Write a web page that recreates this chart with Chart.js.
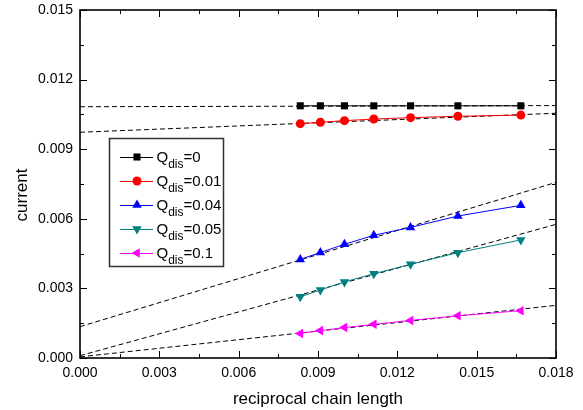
<!DOCTYPE html>
<html>
<head>
<meta charset="utf-8">
<script src="https://cdn.jsdelivr.net/npm/chart.js@4"></script>
<style>
html,body{margin:0;padding:0;background:#fff;}
#wrap{width:583px;height:410px;}
</style>
</head>
<body>
<div id="wrap"><canvas id="c" width="583" height="410"></canvas></div>
<script>
const xVals = [0.00833, 0.00909, 0.01000, 0.01111, 0.01250, 0.01429, 0.01667];
const q0   = [0.01087, 0.01087, 0.01087, 0.01087, 0.01087, 0.01087, 0.01087];
const q001 = [0.01010, 0.01016, 0.01023, 0.01030, 0.01036, 0.01042, 0.01047];
const q004 = [0.00425, 0.00455, 0.00490, 0.00529, 0.00563, 0.00612, 0.00658];
const q005 = [0.00264, 0.00293, 0.00328, 0.00363, 0.00404, 0.00454, 0.00509];
const q01  = [0.00106, 0.00118, 0.00131, 0.00145, 0.00162, 0.00182, 0.00204];
const fitX   = [0, 0.018];
const fit0   = [0.01083, 0.01088];
const fit001 = [0.00973, 0.01055];
const fit004 = [0.00135, 0.00757];
const fit005 = [0.00010, 0.00576];
const fit01  = [0.00005, 0.00227];
const xTicks = [0, 0.003, 0.006, 0.009, 0.012, 0.015, 0.018];
const yTicks = [0, 0.003, 0.006, 0.009, 0.012, 0.015];
const legendLabels = ['0', '0.01', '0.04', '0.05', '0.1'];

const FONT = '"Liberation Sans", Arial, sans-serif';
const pts = ys => ys.map((y, i) => ({x: xVals[i], y}));
const fitPts = ys => ys.map((y, i) => ({x: fitX[i], y}));

const series = [
  {data: q0,   color: '#000000', style: 'rect',     rot: 0,   r: 5},
  {data: q001, color: '#ff0000', style: 'circle',   rot: 0,   r: 4.5},
  {data: q004, color: '#0000ff', style: 'triangle', rot: 0,   r: 5.5},
  {data: q005, color: '#008080', style: 'triangle', rot: 180, r: 5.5},
  {data: q01,  color: '#ff00ff', style: 'triangle', rot: -90, r: 5.5}
];
const fits = [fit0, fit001, fit004, fit005, fit01];

const datasets = [];
series.forEach(s => datasets.push({
  data: pts(s.data), borderColor: s.color, backgroundColor: s.color,
  borderWidth: 1, pointStyle: s.style, rotation: s.rot, pointRadius: s.r,
  pointBorderWidth: 0, pointHoverRadius: s.r, tension: 0
}));
fits.forEach(f => datasets.push({
  data: fitPts(f), borderColor: '#000', borderWidth: 1, borderDash: [5, 3],
  pointRadius: 0, pointHoverRadius: 0, tension: 0
}));

function drawMarker(ctx, style, rot, r, x, y, color) {
  ctx.save();
  ctx.fillStyle = color;
  ctx.translate(x, y);
  ctx.rotate(rot * Math.PI / 180);
  ctx.beginPath();
  if (style === 'rect') {
    const s = Math.SQRT1_2 * r;
    ctx.rect(-s, -s, 2 * s, 2 * s);
  } else if (style === 'circle') {
    ctx.arc(0, 0, r, 0, Math.PI * 2);
  } else {
    ctx.moveTo(0, -r);
    ctx.lineTo(r * Math.sin(Math.PI * 2 / 3), -r * Math.cos(Math.PI * 2 / 3));
    ctx.lineTo(r * Math.sin(Math.PI * 4 / 3), -r * Math.cos(Math.PI * 4 / 3));
    ctx.closePath();
  }
  ctx.fill();
  ctx.restore();
}

const framePlugin = {
  id: 'frame',
  afterDatasetsDraw(chart) {
    const {ctx, chartArea: a, scales: {x, y}} = chart;
    ctx.save();
    ctx.strokeStyle = '#000';
    ctx.lineWidth = 1.6;
    ctx.strokeRect(a.left, a.top, a.right - a.left, a.bottom - a.top);
    ctx.lineWidth = 1;
    ctx.beginPath();
    for (let i = 0; i < xTicks.length * 2 - 1; i++) {
      const v = i * 0.0015;
      const px = Math.round(x.getPixelForValue(v)) + 0.5;
      const L = i % 2 === 0 ? 7 : 4;
      ctx.moveTo(px, a.bottom); ctx.lineTo(px, a.bottom - L);
      ctx.moveTo(px, a.top); ctx.lineTo(px, a.top + L);
    }
    for (let i = 0; i < yTicks.length * 2 - 1; i++) {
      const v = i * 0.0015;
      const py = Math.round(y.getPixelForValue(v)) + 0.5;
      const L = i % 2 === 0 ? 7 : 4;
      ctx.moveTo(a.left, py); ctx.lineTo(a.left + L, py);
      ctx.moveTo(a.right, py); ctx.lineTo(a.right - L, py);
    }
    ctx.stroke();

    // axis titles
    ctx.fillStyle = '#000';
    ctx.font = '17px ' + FONT;
    ctx.textAlign = 'center';
    ctx.textBaseline = 'middle';
    ctx.fillText('reciprocal chain length', (a.left + a.right) / 2, 399);
    ctx.save();
    ctx.translate(22, 195);
    ctx.rotate(-Math.PI / 2);
    ctx.fillText('current', 0, 0);
    ctx.restore();

    // legend
    ctx.fillStyle = '#fff';
    ctx.fillRect(109.5, 138.5, 114, 128);
    ctx.strokeStyle = '#333';
    ctx.lineWidth = 1.5;
    ctx.strokeRect(109.5, 138.5, 114, 128);
    series.forEach((s, i) => {
      const cy = 157 + i * 24;
      ctx.strokeStyle = s.color;
      ctx.lineWidth = 1;
      ctx.beginPath();
      ctx.moveTo(120, cy + 0.5); ctx.lineTo(153, cy + 0.5);
      ctx.stroke();
      drawMarker(ctx, s.style, s.rot, s.r, 137, cy, s.color);
      ctx.fillStyle = '#000';
      ctx.textAlign = 'left';
      ctx.textBaseline = 'alphabetic';
      let tx = 156.5;
      ctx.font = '15px ' + FONT;
      ctx.fillText('Q', tx, cy + 5);
      tx += ctx.measureText('Q').width;
      ctx.font = '12px ' + FONT;
      ctx.fillText('dis', tx, cy + 10.5);
      tx += ctx.measureText('dis').width;
      ctx.font = '15px ' + FONT;
      ctx.fillText('=' + legendLabels[i], tx, cy + 5);
    });
    ctx.restore();
  }
};

new Chart(document.getElementById('c'), {
  type: 'line',
  data: {datasets},
  plugins: [framePlugin],
  options: {
    responsive: false,
    animation: false,
    events: [],
    layout: {padding: {left: 0, right: 27, top: 10, bottom: 0}},
    plugins: {legend: {display: false}, tooltip: {enabled: false}},
    scales: {
      x: {
        type: 'linear', min: 0, max: 0.018,
        afterFit: s => { s.height = 52; s.paddingLeft = 0; s.paddingRight = 0; },
        afterBuildTicks: s => { s.ticks = xTicks.map(v => ({value: v})); },
        ticks: {
          callback: v => v.toFixed(3), color: '#000', padding: 7,
          font: {family: FONT, size: 14}, maxRotation: 0, autoSkip: false
        },
        grid: {display: false, drawTicks: false},
        border: {display: false}
      },
      y: {
        type: 'linear', min: 0, max: 0.015,
        afterFit: s => { s.width = 80; s.paddingTop = 0; s.paddingBottom = 0; },
        afterBuildTicks: s => { s.ticks = yTicks.map(v => ({value: v})); },
        ticks: {
          callback: v => v.toFixed(3), color: '#000', padding: 7,
          font: {family: FONT, size: 14}, autoSkip: false
        },
        grid: {display: false, drawTicks: false},
        border: {display: false}
      }
    }
  }
});
</script>
</body>
</html>
